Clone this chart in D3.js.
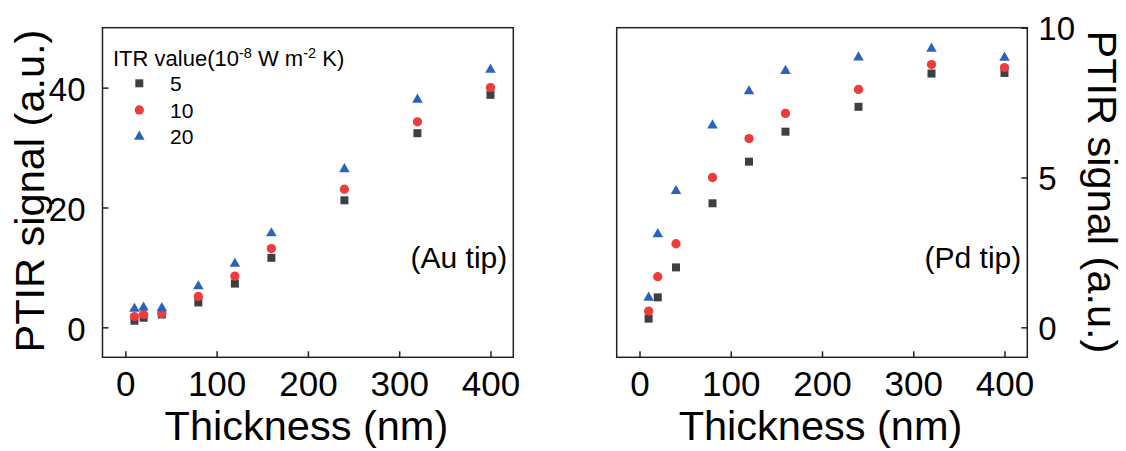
<!DOCTYPE html>
<html>
<head>
<meta charset="utf-8">
<script src="https://cdn.jsdelivr.net/npm/d3@7/dist/d3.min.js"></script>
<style>
  html, body { margin: 0; padding: 0; background: #fff; }
  svg { display: block; font-family: "Liberation Sans", Arial, sans-serif; }
</style>
</head>
<body>
<svg id="chart" width="1126" height="451"></svg>
<script>
// Film thickness (nm) shared by both tips
const thickness = [10, 20, 40, 80, 120, 160, 240, 320, 400];

// Au tip PTIR signal (a.u.) for each ITR value
const auItr5  = [1.1, 1.6, 2.15, 4.15, 7.3, 11.6, 21.2, 32.4, 38.8];
const auItr10 = [1.8, 2.15, 2.3, 5.15, 8.55, 13.15, 23.05, 34.3, 40.0];
const auItr20 = [3.1, 3.3, 3.2, 6.85, 10.6, 15.7, 26.4, 38.0, 43.0];

// Pd tip PTIR signal (a.u.) for each ITR value
const pdItr5  = [0.29, 1.0, 2.0, 4.14, 5.53, 6.53, 7.36, 8.47, 8.49];
const pdItr10 = [0.54, 1.69, 2.79, 5.0, 6.3, 7.14, 7.94, 8.77, 8.67];
const pdItr20 = [0.99, 3.11, 4.55, 6.74, 7.88, 8.56, 9.01, 9.30, 9.0];

// Legend entries and tick values
const itrLabels = ["5", "10", "20"];
const xTicks = [0, 100, 200, 300, 400];
const auYTicks = [0, 20, 40];
const pdYTicks = [0, 5, 10];

const colors = ["#3c4045", "#ee3b3b", "#2b63b9"];
const symbols = [
  d3.symbol().type(d3.symbolSquare).size(64),
  d3.symbol().type(d3.symbolCircle).size(68),
  d3.symbol().type(d3.symbolTriangle).size(48)
];

const svg = d3.select("#chart");
const plotTop = 27.7, plotBottom = 357.3;
const titleSize = 41.5;

function panel(opts) {
  const { left, right, yDomain, yTicks, series, side, tag } = opts;
  const x = d3.scaleLinear().domain([-25, 425]).range([left, right]);
  const y = d3.scaleLinear().domain(yDomain).range([plotBottom, plotTop]);
  const g = svg.append("g");

  // x axis with inward ticks
  const xa = g.append("g").attr("transform", `translate(0,${plotBottom})`)
    .call(d3.axisBottom(x).tickValues(xTicks).tickSize(-6).tickPadding(0).tickFormat(d3.format("d")));
  xa.select(".domain").remove();
  xa.selectAll(".tick line").attr("stroke", "#222").attr("stroke-width", 1.5);
  xa.selectAll(".tick text").attr("y", 39).attr("dy", null)
    .attr("font-size", 35).attr("fill", "#000").attr("font-family", "Liberation Sans, Arial, sans-serif");

  // y axis on the requested side
  const axisGen = side === "left" ? d3.axisLeft(y) : d3.axisRight(y);
  const ya = g.append("g").attr("transform", `translate(${side === "left" ? left : right},0)`)
    .call(axisGen.tickValues(yTicks).tickSize(-6).tickPadding(0).tickFormat(d3.format("d")));
  ya.select(".domain").remove();
  ya.selectAll(".tick line").attr("stroke", "#222").attr("stroke-width", 1.5);
  ya.selectAll(".tick text")
    .attr("x", side === "left" ? -17 : 11)
    .attr("dy", side === "left" ? 13 : 11.7)
    .attr("font-size", 33).attr("fill", "#000").attr("font-family", "Liberation Sans, Arial, sans-serif");

  // frame
  g.append("rect").attr("x", left).attr("y", plotTop)
    .attr("width", right - left).attr("height", plotBottom - plotTop)
    .attr("fill", "none").attr("stroke", "#222").attr("stroke-width", 1.5);

  // markers
  series.forEach((vals, i) => {
    g.append("g").selectAll("path").data(vals).join("path")
      .attr("d", symbols[i])
      .attr("fill", colors[i])
      .attr("transform", (d, j) => `translate(${x(thickness[j])},${y(d)})`);
  });

  // tip tag
  g.append("text").attr("x", right - 6).attr("y", 268).attr("text-anchor", "end")
    .attr("font-size", 30).attr("fill", "#000").text(tag);

  // x title
  g.append("text").attr("x", (left + right) / 2 - 1.5).attr("y", 440).attr("text-anchor", "middle")
    .attr("font-size", titleSize).attr("fill", "#000").text("Thickness (nm)");

  return { x, y, g };
}

panel({
  left: 102.5, right: 513.3, yDomain: [-5, 50], yTicks: auYTicks,
  series: [auItr5, auItr10, auItr20], side: "left", tag: "(Au tip)"
});

panel({
  left: 616.7, right: 1027.3, yDomain: [-1, 10], yTicks: pdYTicks,
  series: [pdItr5, pdItr10, pdItr20], side: "right", tag: "(Pd tip)"
});

// y titles
svg.append("text").attr("transform", "translate(44,191) rotate(-90)")
  .attr("text-anchor", "middle").attr("font-size", titleSize).attr("fill", "#000")
  .text("PTIR signal (a.u.)");
svg.append("text").attr("transform", "translate(1088,192) rotate(90)")
  .attr("text-anchor", "middle").attr("font-size", titleSize).attr("fill", "#000")
  .text("PTIR signal (a.u.)");

// legend
const lg = svg.append("g");
const lt = lg.append("text").attr("x", 113).attr("y", 66).attr("font-size", 22).attr("fill", "#000");
lt.append("tspan").text("ITR value(10");
lt.append("tspan").attr("font-size", 14.5).attr("dy", -8.5).text("-8");
lt.append("tspan").attr("dy", 8.5).text(" W m");
lt.append("tspan").attr("font-size", 14.5).attr("dy", -8.5).text("-2");
lt.append("tspan").attr("dy", 8.5).text(" K)");

itrLabels.forEach((lab, i) => {
  const cy = 83.3 + i * 26.7;
  lg.append("path").attr("d", symbols[i]).attr("fill", colors[i])
    .attr("transform", `translate(139.3,${cy})`);
  lg.append("text").attr("x", 170).attr("y", cy + 7.5).attr("font-size", 21)
    .attr("fill", "#000").text(lab);
});
</script>
</body>
</html>
